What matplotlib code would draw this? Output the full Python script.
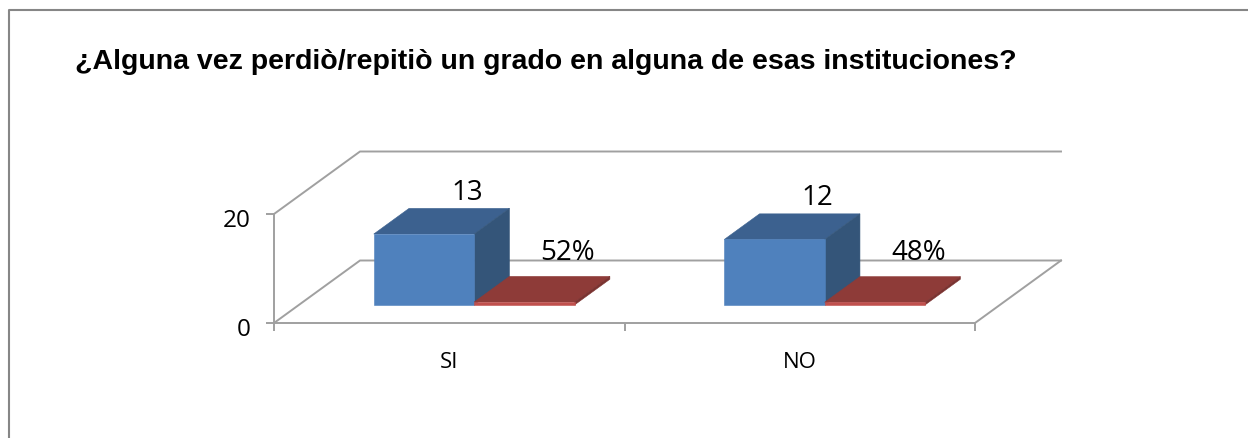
"""3D-look clustered bars drawn by hand from a small skew projection."""
import matplotlib.pyplot as plt
from matplotlib.lines import Line2D
from matplotlib.patches import Polygon
from matplotlib.transforms import ScaledTranslation

categories = ["SI", "NO"]
counts = [13, 12]
shares = [0.52, 0.48]
share_labels = ["52%", "48%"]
y_ticks = [0, 20]
title = "¿Alguna vez perdiò/repitiò un grado en alguna de esas instituciones?"

W, H = 1248, 439
# front plane of the chart box, in pixels
LEFT, RIGHT, TOP, BOTTOM = 274, 975, 215, 324
# full depth of the box expressed in data units
DEPTH_X = 86 / 350.5
DEPTH_Y = 62.5 / 5.45
BAR_WIDTH = 0.2865
BAR_DEPTH = (0.29, 0.70)  # near and far edge of the bars, as share of the depth

BLUE_FRONT, BLUE_TOP, BLUE_SIDE = "#4f81bd", "#3c618f", "#345579"
RED_FRONT, RED_TOP, RED_SIDE = "#c0504d", "#8e3b38", "#7a3230"
GRID = "#a0a0a0"
GRID_LW = 1.4


def skew(x, y, depth):
    """Move a front plane data point back into the box."""
    return x + depth * DEPTH_X, y + depth * DEPTH_Y


def draw_bar(ax, x0, value, front, top, side):
    x1 = x0 + BAR_WIDTH
    near, far = BAR_DEPTH
    faces = [
        (top, [skew(x0, value, near), skew(x1, value, near), skew(x1, value, far), skew(x0, value, far)]),
        (side, [skew(x1, 0, near), skew(x1, 0, far), skew(x1, value, far), skew(x1, value, near)]),
        (front, [skew(x0, 0, near), skew(x1, 0, near), skew(x1, value, near), skew(x0, value, near)]),
    ]
    for color, points in faces:
        ax.add_patch(Polygon(points, closed=True, facecolor=color, edgecolor=color, linewidth=0.4,
                             clip_on=False, zorder=3))


fig = plt.figure(figsize=(W / 100, H / 100), dpi=100)
# the frame is cut off on the right and at the bottom
fig.add_artist(Line2D([8.5 / W, 8.5 / W, 1], [0, 1 - 11 / H, 1 - 11 / H], color="#868686", lw=1.5))
ax = fig.add_axes([LEFT / W, 1 - BOTTOM / H, (RIGHT - LEFT) / W, (BOTTOM - TOP) / H])
ax.patch.set_alpha(0)
ax.set_xlim(0, len(categories))
ax.set_ylim(y_ticks[0], y_ticks[-1])

for side in ("top", "right"):
    ax.spines[side].set_visible(False)
for side in ("left", "bottom"):
    ax.spines[side].set_color(GRID)
    ax.spines[side].set_linewidth(GRID_LW)

ax.set_yticks(y_ticks)
ax.set_xticks(range(len(categories) + 1))
ax.set_xticklabels([])
ax.set_xticks([i + 0.5 for i in range(len(categories))], categories, minor=True)
ax.tick_params(axis="x", which="major", length=6, width=GRID_LW, color=GRID)
ax.tick_params(axis="x", which="minor", length=0, pad=20, labelsize=16)
ax.tick_params(axis="y", length=6, width=GRID_LW, color=GRID, pad=11, labelsize=17.5)
for label in ax.get_xticklabels(minor=True) + ax.get_yticklabels():
    label.set_fontfamily("Open Sans")
for label in ax.get_yticklabels():
    label.set_transform(label.get_transform() + ScaledTranslation(0, -3 / 100, fig.dpi_scale_trans))

# walls and floor of the box
xmin, xmax = ax.get_xlim()
for y in y_ticks:
    back_left = skew(xmin, y, 1)
    back_right = skew(xmax, y, 1)
    ax.plot([xmin, back_left[0], back_right[0]], [y, back_left[1], back_right[1]],
            color=GRID, lw=GRID_LW, clip_on=False, zorder=1)
right_back = skew(xmax, y_ticks[0], 1)
ax.plot([xmax, right_back[0]], [y_ticks[0], right_back[1]], color=GRID, lw=GRID_LW, clip_on=False, zorder=1)

for i, (count, share) in enumerate(zip(counts, shares)):
    start = i + 0.5 - BAR_WIDTH
    draw_bar(ax, start, count, BLUE_FRONT, BLUE_TOP, BLUE_SIDE)
    draw_bar(ax, start + BAR_WIDTH, share, RED_FRONT, RED_TOP, RED_SIDE)
    lx, ly = skew(start + BAR_WIDTH / 2, count, 0.70)
    ax.annotate(str(count), (lx, ly), xytext=(5.8, 1.8), textcoords="offset points", ha="center", va="bottom",
                fontsize=20, family="Open Sans", zorder=5, annotation_clip=False)
    lx, ly = skew(start + BAR_WIDTH * 1.5, share, 0.70)
    ax.annotate(share_labels[i], (lx, ly), xytext=(5.8, 7.5), textcoords="offset points", ha="center", va="bottom",
                fontsize=20, family="Open Sans", zorder=5, annotation_clip=False)

fig.text(75 / W, 1 - 62 / H, title, fontsize=20.5, fontweight="bold", family="Liberation Sans",
         ha="left", va="center", color="black")

fig.savefig("out.png", dpi=100)
